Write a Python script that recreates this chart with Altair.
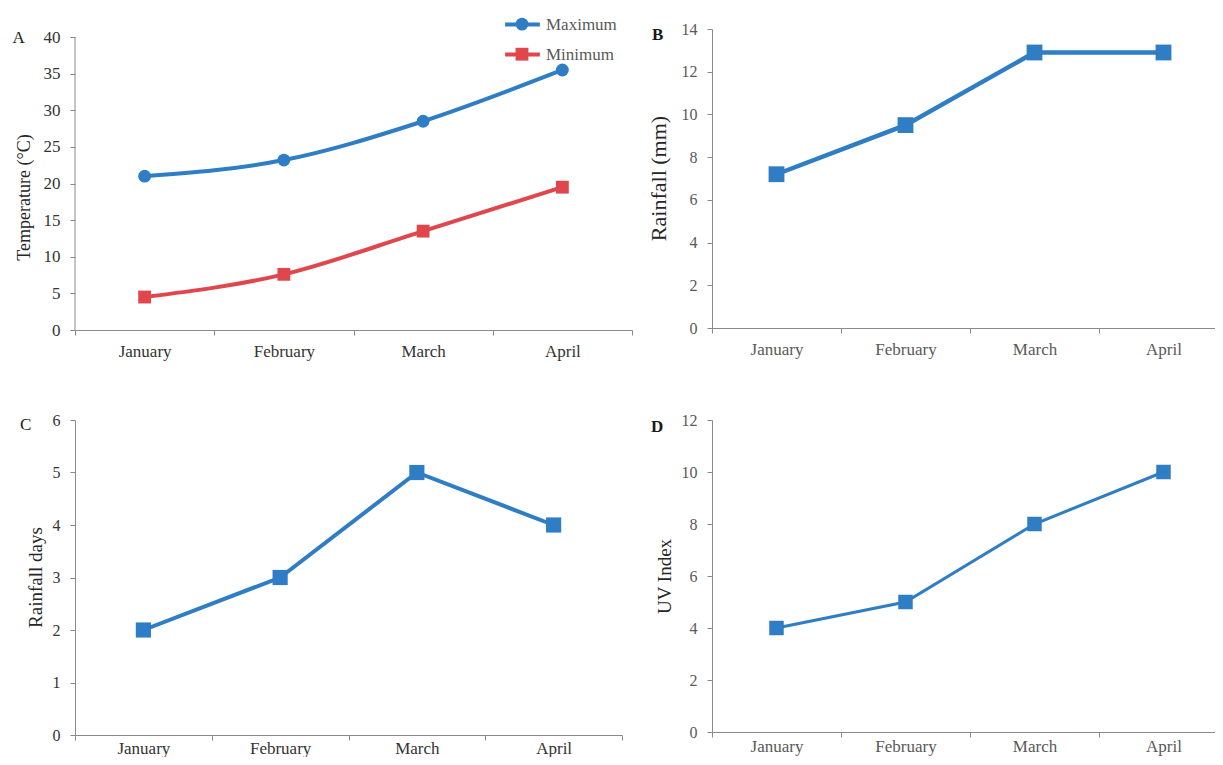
import altair as alt
import pandas as pd

# ---------------- data ----------------
months = ["January", "February", "March", "April"]
series_names = ["Maximum", "Minimum"]
temp_max = [21.0, 23.2, 28.5, 35.5]
temp_min = [4.5, 7.6, 13.5, 19.5]
rainfall_mm = [7.2, 9.5, 12.9, 12.9]
rainfall_days = [2, 3, 5, 4]
uv_index = [4, 5, 8, 10]

temp_ticks = [0, 5, 10, 15, 20, 25, 30, 35, 40]
rain_ticks = [0, 2, 4, 6, 8, 10, 12, 14]
days_ticks = [0, 1, 2, 3, 4, 5, 6]
uv_ticks = [0, 2, 4, 6, 8, 10, 12]
panel_letters = ["A", "B", "C", "D"]

# ---------------- style ----------------
SERIF = "Liberation Serif"
BLUE = "#2E7DC5"
RED = "#E0474C"
AXIS_GRAY = "#8A8A8A"
DARK = "#333333"
MID = "#595959"
TITLE = "#262626"
LEGEND_LINE = "M-2.9,0L2.9,0"


def x_enc(label_color, label_pad=8):
    return alt.X(
        "month:N", sort=months, title=None,
        scale=alt.Scale(type="band", paddingInner=0, paddingOuter=0),
        axis=alt.Axis(labelAngle=0, tickBand="extent", labelFont=SERIF, labelFontSize=17,
                      labelColor=label_color, labelPadding=label_pad, tickSize=5,
                      tickColor=AXIS_GRAY, domainColor=AXIS_GRAY, grid=False),
    )


def y_enc(field, ticks, top, title, title_size, label_size, label_color, tx, ty, domain=True):
    return alt.Y(
        f"{field}:Q",
        scale=alt.Scale(domain=[ticks[0], top], nice=False, zero=False),
        axis=alt.Axis(values=ticks, title=title, grid=False, domain=domain,
                      domainColor=AXIS_GRAY, tickColor=AXIS_GRAY, tickSize=5,
                      labelFont=SERIF, labelFontSize=label_size, labelColor=label_color,
                      labelPadding=10, titleFont=SERIF, titleFontSize=title_size,
                      titleFontWeight="normal", titleColor=TITLE, titleX=tx, titleY=ty,
                      titleBaseline="middle", titleAlign="center"),
    )


def letter_layer(letter, dx, dy, bold):
    return alt.Chart(pd.DataFrame({"letter": [letter]})).mark_text(
        font=SERIF, fontSize=17, fontWeight="bold" if bold else "normal",
        align="left", baseline="middle", color="#1a1a1a",
    ).encode(text="letter:N", x=alt.value(dx), y=alt.value(dy))


# ---------------- panel A ----------------
A_W, A_H, A_PLOT = 557, 301, 293
temp_top = temp_ticks[-1] * A_H / A_PLOT
temp_df = pd.DataFrame({
    "month": months * 2,
    "series": [series_names[0]] * 4 + [series_names[1]] * 4,
    "value": temp_max + temp_min,
})
temp_df["marker"] = temp_df["series"]


def yA(field):
    return y_enc(field, temp_ticks, temp_top, "Temperature (°C)", 18, 17, DARK, -51, 168,
                 domain=False)


axis_rule_a = alt.Chart(pd.DataFrame({"lo": [temp_ticks[0]], "hi": [temp_ticks[-1]]})).mark_rule(
    color=AXIS_GRAY, strokeWidth=1
).encode(x=alt.value(0), y=yA("lo"), y2="hi:Q")

line_a = alt.Chart(temp_df).mark_line(strokeWidth=4, interpolate="monotone").encode(
    x=x_enc(DARK), y=yA("value"),
    stroke=alt.Stroke(
        "series:N",
        scale=alt.Scale(domain=series_names, range=[BLUE, RED]),
        legend=alt.Legend(title=None, orient="none", legendX=439, legendY=-13,
                          symbolType=LEGEND_LINE, symbolSize=144, symbolStrokeWidth=4,
                          labelFont=SERIF, labelFontSize=17, labelColor=MID, labelOffset=15,
                          rowPadding=12, padding=0),
    ),
)

marker_legend = alt.Legend(title=None, orient="none", legendX=440.5, legendY=-11.4,
                           symbolSize=165, symbolStrokeWidth=0, labelExpr="''",
                           labelFontSize=1, labelOffset=0, rowPadding=17.1, padding=0)
pts_a = alt.Chart(temp_df).mark_point(filled=True, opacity=1, size=165, strokeWidth=0).encode(
    x=x_enc(DARK), y=yA("value"),
    fill=alt.Fill("marker:N", scale=alt.Scale(range=[BLUE, RED]), legend=marker_legend),
    shape=alt.Shape("marker:N", scale=alt.Scale(range=["circle", "square"]), legend=marker_legend),
)

panel_a = alt.layer(axis_rule_a, line_a, pts_a, letter_layer(panel_letters[0], -62.5, 9, False)
                    ).properties(width=A_W, height=A_H)


# ---------------- single-series panels ----------------
def single_panel(values, ticks, title, title_size, w, h, stroke_w, msize, letter, lx, ly, bold,
                 label_color, tx, ty, x_pad):
    df = pd.DataFrame({"month": months, "value": values})
    y = y_enc("value", ticks, ticks[-1], title, title_size, 16, label_color, tx, ty)
    x = x_enc(label_color, x_pad)
    line = alt.Chart(df).mark_line(strokeWidth=stroke_w, color=BLUE).encode(x=x, y=y)
    pts = alt.Chart(df).mark_point(filled=True, opacity=1, shape="square", size=msize,
                                   color=BLUE, strokeWidth=0).encode(x=x, y=y)
    return alt.layer(line, pts, letter_layer(letter, lx, ly, bold)).properties(width=w, height=h)


panel_b = single_panel(rainfall_mm, rain_ticks, "Rainfall (mm)", 22, 516, 299, 4.5, 250,
                       panel_letters[1], -60, 6, True, MID, -54, 149, 8)
panel_c = single_panel(rainfall_days, days_ticks, "Rainfall days", 19, 547, 315, 4, 230,
                       panel_letters[2], -55, 5, False, DARK, -40, 157, 0)
panel_d = single_panel(uv_index, uv_ticks, "UV Index", 19, 516, 312, 3, 210,
                       panel_letters[3], -61, 7, True, MID, -48, 156, 1)

chart = alt.concat(
    panel_a, panel_b, panel_c, panel_d,
    columns=2, bounds="flush", spacing={"row": 90, "column": 80},
).properties(
    padding={"left": 4, "top": 8, "right": -14, "bottom": 1},
    background="white",
).configure_view(stroke=None).resolve_scale(x="independent", y="independent")

chart.save("out.html", embed_options={"renderer": "svg", "actions": False})
